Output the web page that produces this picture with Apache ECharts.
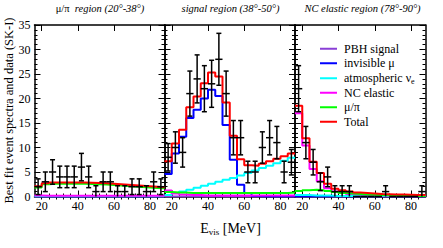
<!DOCTYPE html>
<html><head><meta charset="utf-8">
<script src="https://cdn.jsdelivr.net/npm/echarts@6/dist/echarts.min.js"></script>
<style>html,body{margin:0;padding:0;background:#fff}#c{width:443px;height:248px}</style>
</head><body><div id="c"></div>
<script>
// ---------------- data ----------------
const binEdges = [16,20,24,28,32,36,40,44,48,52,56,60,64,68,72,76,80,84,88];
const xTickLabels = [20,40,60,80];
const xMinorTicks = [20,24,28,32,36,40,44,48,52,56,60,64,68,72,76,80,84];
const seriesNames = ['PBH signal','invisible μ','atmospheric νe','NC elastic','μ/π','Total'];

// panel 1: mu/pi region
const mupiData  = [2,3,5,4,4,4,6,4,1,3,3,1,1,2,2,1,3,2];
const mupiErr   = [1.6,2.0,2.5,2.2,2.2,2.2,2.8,2.2,1.2,2.0,2.0,1.2,1.2,1.6,1.6,1.2,2.0,1.6];
const mupiPBH   = [0,0,0,0,0,0,0,0,0,0,0,0,0,0,0,0,0,0];
const mupiInvMu = [0.02,0.02,0.02,0.02,0.02,0.02,0.02,0.02,0.02,0.02,0.02,0.02,0.02,0.02,0.02,0.02,0.02,0.02];
const mupiAtmNe = [0.05,0.05,0.05,0.05,0.05,0.05,0.05,0.05,0.05,0.05,0.05,0.05,0.05,0.05,0.05,0.05,0.05,0.05];
const mupiNC    = [0.2,0.15,0.15,0.15,0.15,0.15,0.15,0.15,0.15,0.15,0.15,0.15,0.15,0.15,0.15,0.15,0.15,0.15];
const mupiMuPi  = [1.85,2.5,2.6,2.6,2.6,2.6,2.6,2.55,2.5,2.45,2.35,2.25,2.15,2.05,1.95,1.85,1.75,1.7];
const mupiTotal = [2.1,2.7,2.85,2.85,2.85,2.85,2.85,2.8,2.75,2.7,2.6,2.5,2.4,2.3,2.2,2.1,2.0,1.9];

// panel 2: signal region
const sigData  = [8,10,9,21,24,22,23,28,21,12,12,5,5,10,12,11,5,7];
const sigErr   = [2.8,3.2,3.0,4.6,4.9,4.7,4.8,5.3,4.6,3.5,3.5,2.2,2.2,3.2,3.5,3.3,2.2,2.6];
const sigPBH   = [0,0,0,0,0,0,0,0,0,0,0,0,0,0,0,0,0,0];
const sigInvMu = [4.6,8.8,12.2,16,17.7,20,21.8,20.5,14.6,7.5,2.4,0.7,0.1,0,0,0,0,0];
const sigAtmNe = [0.3,0.7,1.0,1.4,1.8,2.2,2.6,3.0,3.4,3.8,4.3,4.8,5.3,5.8,6.3,6.8,7.3,7.9];
const sigNC    = [1.2,0.6,0.4,0.3,0.3,0.2,0.2,0.2,0.2,0.2,0.2,0.2,0.2,0.2,0.2,0.2,0.2,0.2];
const sigMuPi  = [0.9,0.8,0.8,0.7,0.7,0.7,0.7,0.7,0.7,0.7,0.7,0.7,0.7,0.7,0.7,0.7,0.7,0.8];
const sigTotal = [7.2,10.8,13.6,18.2,20.4,23.1,25.3,24.5,19.2,12.4,7.6,6.4,6.3,6.7,7.2,7.7,8.2,8.8];

// panel 3: NC elastic region
const ncData  = [22,11,7,3,4,1,1,1,0,0,0,0,1,0,0,0,0,1];
const ncErr   = [4.7,3.3,2.6,1.8,2.0,1.2,1.2,1.2,0,0,0,0,1.2,0,0,0,0,1.2];
const ncPBH   = [0,0,0,0,0,0,0,0,0,0,0,0,0,0,0,0,0,0];
const ncInvMu = [0,0,0,0,0,0,0,0,0,0,0,0,0,0,0,0,0,0];
const ncAtmNe = [0.3,0.3,0.2,0.2,0.2,0.1,0.1,0.1,0.1,0.1,0.1,0.1,0.1,0.1,0.1,0.1,0.1,0.1];
const ncNC    = [17.0,10.4,5.6,3.1,1.7,1.0,0.7,0.5,0.4,0.35,0.3,0.25,0.2,0.2,0.2,0.15,0.15,0.15];
const ncMuPi  = [1.1,1.3,1.4,1.3,1.1,0.9,0.7,0.6,0.5,0.4,0.35,0.3,0.25,0.2,0.15,0.15,0.1,0.1];
const ncTotal = [18.5,11.9,7.1,4.8,2.6,1.6,1.3,1.0,0.8,0.7,0.6,0.5,0.45,0.4,0.4,0.35,0.3,0.3];

// ---------------- chart ----------------
const FONT = '"Liberation Serif","Times New Roman",serif';
const colors = ['#8a3fd6','#0000ff','#00ffff','#ff00ff','#00ff00','#ff0000'];
const panels = [
  {data: mupiData, err: mupiErr, comps: [mupiPBH,mupiInvMu,mupiAtmNe,mupiNC,mupiMuPi,mupiTotal]},
  {data: sigData,  err: sigErr,  comps: [sigPBH,sigInvMu,sigAtmNe,sigNC,sigMuPi,sigTotal]},
  {data: ncData,   err: ncErr,   comps: [ncPBH,ncInvMu,ncAtmNe,ncNC,ncMuPi,ncTotal]}
];
const gridBoxes = [
  {left: 34.5, width: 130},
  {left: 164.5, width: 130.5},
  {left: 295, width: 130.5}
];
const GT = 25, GH = 171.5;

const grids = gridBoxes.map(g => ({left: g.left, width: g.width, top: GT, height: GH, containLabel: false, outerBoundsMode: 'none'}));

const lineBlack = {color: '#000', width: 1.5};
const xAxis = [], yAxis = [];
panels.forEach((p, gi) => {
  const base = {gridIndex: gi, type: 'value', min: 16, max: 88, splitLine: {show: false}};
  ['bottom','top'].forEach(pos => {
    xAxis.push(Object.assign({}, base, {
      position: pos,
      axisLine: {show: true, onZero: false, lineStyle: lineBlack},
      axisTick: {show: true, inside: true, length: 6, customValues: xTickLabels, lineStyle: {color: '#000', width: 1}},
      axisLabel: pos === 'bottom'
        ? {show: true, customValues: xTickLabels, margin: 3, fontSize: 12, fontFamily: FONT, color: '#000'}
        : {show: false}
    }));
    xAxis.push(Object.assign({}, base, {
      position: pos,
      axisLine: {show: false},
      axisTick: {show: true, inside: true, length: 3, customValues: xMinorTicks, lineStyle: {color: '#000', width: 1}},
      axisLabel: {show: false}
    }));
  });
  ['left','right'].forEach(pos => {
    yAxis.push({
      gridIndex: gi, type: 'value', min: 0, max: 35, interval: 5, position: pos,
      splitLine: {show: false},
      axisLine: {show: true, onZero: false, lineStyle: lineBlack},
      axisTick: {show: true, inside: true, length: 6, lineStyle: {color: '#000', width: 1}},
      minorTick: {show: true, splitNumber: 5, length: 3, lineStyle: {color: '#000', width: 1}},
      axisLabel: (gi === 0 && pos === 'left')
        ? {show: true, margin: 4, fontSize: 12, fontFamily: FONT, color: '#000'}
        : {show: false}
    });
  });
});

function stepData(vals) {
  return binEdges.map((e, i) => [e, vals[Math.min(i, vals.length - 1)]]);
}

const series = [];
panels.forEach((p, gi) => {
  // data points with error bars
  const pts = p.data.map((n, i) => {
    const c = (binEdges[i] + binEdges[i + 1]) / 2;
    return [c, n, Math.max(0, n - p.err[i]), n + p.err[i], binEdges[i], binEdges[i + 1]];
  });
  p.comps.forEach((vals, k) => {
    series.push({
      type: 'line', name: seriesNames[k], xAxisIndex: gi * 4, yAxisIndex: gi * 2,
      data: stepData(vals), step: 'end', symbol: 'none', showSymbol: false,
      lineStyle: {color: colors[k], width: 2}, itemStyle: {color: colors[k]},
      silent: true, animation: false, z: 2 + k
    });
  });
  series.push({
    type: 'custom', name: 'data' + gi, xAxisIndex: gi * 4, yAxisIndex: gi * 2,
    data: pts, encode: {x: 0, y: 1}, silent: true, animation: false, z: 10,
    renderItem: function (params, api) {
      const x = api.value(0), y = api.value(1), lo = api.value(2), hi = api.value(3);
      const pl = api.coord([api.value(4), y]), pr = api.coord([api.value(5), y]);
      const plo = api.coord([x, lo]), phi = api.coord([x, hi]);
      const st = {stroke: '#000', lineWidth: 1.5};
      const ch = [
        {type: 'line', shape: {x1: pl[0], y1: pl[1], x2: pr[0], y2: pr[1]}, style: st}
      ];
      if (hi - lo > 0) {
        ch.push({type: 'line', shape: {x1: plo[0], y1: plo[1], x2: phi[0], y2: phi[1]}, style: st});
        ch.push({type: 'line', shape: {x1: phi[0] - 2.5, y1: phi[1], x2: phi[0] + 2.5, y2: phi[1]}, style: st});
        if (lo > 0) ch.push({type: 'line', shape: {x1: plo[0] - 2.5, y1: plo[1], x2: plo[0] + 2.5, y2: plo[1]}, style: st});
      }
      return {type: 'group', children: ch};
    }
  });
});

const titleRich = {
  u: {fontFamily: FONT, fontSize: 10.5, fontStyle: 'normal', fill: '#000'},
  i: {fontFamily: FONT, fontSize: 10.5, fontStyle: 'italic', fill: '#000'}
};
const graphic = [
  {type: 'text', x: 100, y: 8.5, style: {text: '{u|μ/π}{i|  region (20°-38°)}', rich: titleRich, align: 'center', verticalAlign: 'middle'}},
  {type: 'text', x: 230.5, y: 8.5, style: {text: '{i|signal region (38°-50°)}', rich: titleRich, align: 'center', verticalAlign: 'middle'}},
  {type: 'text', x: 362.5, y: 8.5, style: {text: '{i|NC elastic region (78°-90°)}', rich: titleRich, align: 'center', verticalAlign: 'middle'}},
  {type: 'text', x: 230.5, y: 228, style: {
    text: '{a|E}{b|vis}{a| [MeV]}', align: 'center', verticalAlign: 'middle',
    rich: {a: {fontFamily: FONT, fontSize: 14, fill: '#000', lineHeight: 16},
           b: {fontFamily: FONT, fontSize: 9, fill: '#000', lineHeight: 16, verticalAlign: 'bottom', padding: [6, 0, 0, 0]}}
  }},
  {type: 'text', x: 8.5, y: 110.5, rotation: Math.PI / 2, style: {
    text: 'Best fit event spectra and data (SK-I)', fontFamily: FONT, fontSize: 12.5, fill: '#000',
    align: 'center', verticalAlign: 'middle'
  }}
];

const option = {
  backgroundColor: '#fff',
  animation: false,
  grid: grids,
  xAxis: xAxis,
  yAxis: yAxis,
  legend: {
    show: true, orient: 'vertical', left: 315, top: 36.5,
    data: seriesNames, icon: 'rect', itemWidth: 17, itemHeight: 2, itemGap: 0,
    selectedMode: false,
    formatter: function (name) { return name === 'atmospheric νe' ? '{t|atmospheric ν}{s|e}' : '{t|' + name + '}'; },
    textStyle: {
      fontFamily: FONT, fontSize: 12, color: '#000', lineHeight: 14.5, padding: [0, 0, 0, 2],
      rich: {t: {fontFamily: FONT, fontSize: 12, color: '#000', lineHeight: 14.5},
             s: {fontFamily: FONT, fontSize: 8, color: '#000', lineHeight: 14.5, verticalAlign: 'bottom', padding: [7, 0, 0, 0]}}
    }
  },
  graphic: graphic,
  series: series
};

const chart = echarts.init(document.getElementById('c'), null, {renderer: 'svg', width: 443, height: 248});
chart.setOption(option);
</script>
</body></html>
